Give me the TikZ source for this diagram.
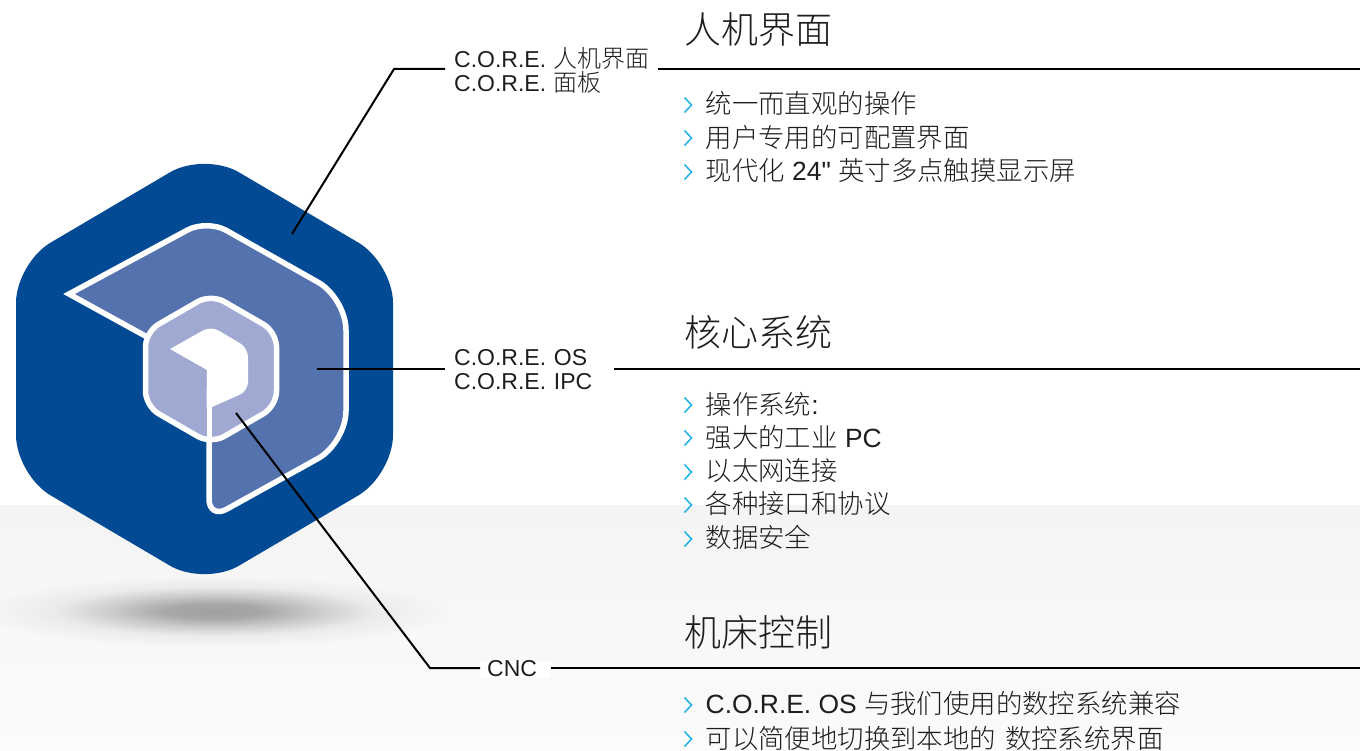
\documentclass[tikz,border=0pt]{standalone}
\usepackage{fontspec}
\setmainfont{Liberation Sans}
\newfontfamily\lat{Liberation Sans}
\newfontfamily\cjk{Noto Sans CJK SC Light}
\newcommand{\zh}[1]{{\cjk #1}}
\newcommand{\zhtag}[1]{{\cjk\fontsize{24}{24}\selectfont #1}}

\definecolor{hexblue}{HTML}{024A93}
\definecolor{midblue}{HTML}{5472AE}
\definecolor{lightblue}{HTML}{9FA9D1}
\definecolor{chevcyan}{HTML}{1BAFE5}
\definecolor{inkgray}{HTML}{1E1E1E}
\definecolor{bandtop}{HTML}{F4F4F4}
\definecolor{bandbot}{HTML}{FBFBFB}
\definecolor{shadowcore}{HTML}{A0A0A0}
\definecolor{shadowedge}{HTML}{F7F7F7}

\pgfdeclareradialshading{floorshadow}{\pgfpoint{0bp}{0bp}}{
  color(0bp)=(shadowcore); color(5bp)=(shadowcore!92!shadowedge);
  color(11bp)=(shadowcore!50!shadowedge); color(17bp)=(shadowcore!14!shadowedge);
  color(25bp)=(shadowedge); color(100bp)=(shadowedge)}

\tikzset{
  leader/.style={black, line width=2pt},
  outline/.style={draw=white, line width=5.5pt, line join=miter},
  chev/.style={chevcyan, line width=1.5pt},
  tag/.style={inkgray, anchor=west, inner xsep=9pt, inner ysep=0pt, align=left,
    font=\fontsize{23}{24}\selectfont},
  headline/.style={inkgray, anchor=base west, inner sep=0pt, font=\fontsize{37}{37}\selectfont},
  item/.style={inkgray, anchor=base west, inner sep=0pt, font=\fontsize{26.4}{26.4}\selectfont}
}

\begin{document}
\begin{tikzpicture}[x=1pt, y=-1pt]
  \useasboundingbox (0,0) rectangle (1360,751);

  % floor
  \shade[top color=bandtop, bottom color=bandbot] (0,505) rectangle (1360,751);
  \shade[shading=floorshadow] (214,611) ellipse [x radius=235, y radius=36];

  % logo
  \fill[hexblue, rounded corners=40pt] (204.5,152) -- (393,263) -- (393,475)
    -- (204.5,586) -- (16,475) -- (16,263) -- cycle;
  \path[outline, fill=midblue] (69,294) [rounded corners=22pt] -- (207,219.5)
    [rounded corners=32pt] -- (346,298) -- (346,443)
    [rounded corners=20pt] -- (209,519) [sharp corners] -- (209,371) -- cycle;
  \path[outline, fill=lightblue, rounded corners=15pt] (211,294) -- (276.5,331.8)
    -- (276.5,406.2) -- (211,444) -- (145.5,406.2) -- (145.5,331.8) -- cycle;
  \fill[white] (170,349) [rounded corners=9pt] -- (211,326) -- (248,348) -- (248,391)
    [sharp corners] -- (212,407) -- (206.5,407) -- (207,370) -- cycle;
  \fill[white] (206.5,405) rectangle (212,445);

  % end points of the leaders
  \coordinate (hmitip) at (292,234);
  \coordinate (hmibend) at (394,69);
  \coordinate (hmiend) at (1360,69);
  \coordinate (ostip) at (317,369);
  \coordinate (osend) at (1360,369);
  \coordinate (cnctip) at (236,413);
  \coordinate (cncbend) at (430,668);
  \coordinate (cncend) at (1360,668);

  \node[tag, text width=195pt] (hmitag) at (445,70) {\mbox{C.O.R.E. \zhtag{人机界面}}\\C.O.R.E. \zhtag{面板}};
  \node[tag, text width=151pt] (ostag) at (445,370) {C.O.R.E. OS\\C.O.R.E. IPC};
  \node[tag, fill=white, inner xsep=7pt, text width=57pt, minimum height=17pt] (cnctag) at (480,669) {CNC};

  \draw[leader] (hmitip) -- (hmibend) -- (hmitag.west |- hmibend);
  \draw[leader] (hmitag.east |- hmiend) -- (hmiend);
  \draw[leader] (ostip) -- (ostag.west |- ostip);
  \draw[leader] (ostag.east |- osend) -- (osend);
  \draw[leader] (cnctip) -- (cncbend) -- (cnctag.west |- cncbend);
  \draw[leader] (cnctag.east |- cncend) -- (cncend);

  % headlines
  \node[headline] (hmititle) at (684,44) {\zh{人机界面}};
  \node[headline] (ostitle) at (684,346) {\zh{核心系统}};
  \node[headline] (cnctitle) at (684,646) {\zh{机床控制}};

  % lists
  \foreach \y/\words in {
    114/{\zh{统一而直观的操作}},
    148/{\zh{用户专用的可配置界面}},
    181/{\zh{现代化} {\lat 24"} \zh{英寸多点触摸显示屏}},
    414/{\zh{操作系统}:},
    447/{\zh{强大的工业} PC},
    480/{\zh{以太网连接}},
    513/{\zh{各种接口和协议}},
    547/{\zh{数据安全}},
    713/{C.O.R.E. OS \zh{与我们使用的数控系统兼容}},
    748/{\zh{可以简便地切换到本地的}\hspace{9pt}\zh{数控系统界面}}} {
    \node[item] (item\y) at (705.5,\y) {\words};
  }
  \foreach \y in {105,138,172,405,438,472,505,539,705,739} {
    \draw[chev] (684.5,\y-7.5) -- ++(7,7.5) -- ++(-7,7.5);
  }
\end{tikzpicture}
\end{document}
